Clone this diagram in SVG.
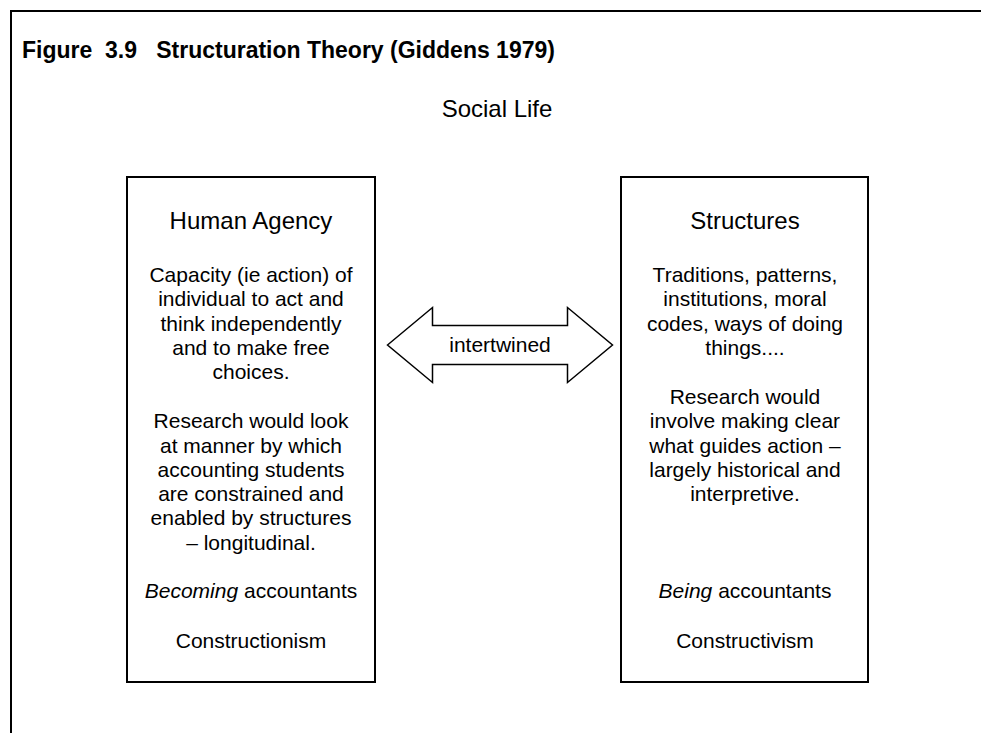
<svg xmlns="http://www.w3.org/2000/svg" width="981" height="733" viewBox="0 0 981 733">
<style>
text{font-family:"Liberation Sans",Arial,sans-serif;fill:#000}
.b{font-size:21px;text-anchor:middle}
.h{font-size:24px;text-anchor:middle}
.box{fill:#fff;stroke:#000;stroke-width:2}
</style>
<rect width="981" height="733" fill="#fff"/>
<path d="M11,733 V11 H981" fill="none" stroke="#000" stroke-width="2"/>
<text x="22" y="58" font-size="23" font-weight="bold" xml:space="preserve">Figure  3.9   Structuration Theory (Giddens 1979)</text>
<text x="497" y="117" class="h" font-size="23">Social Life</text>
<g id="agency">
<rect class="box" x="127" y="177" width="248" height="505"/>
<text class="h" x="251" y="229">Human Agency</text>
<text class="b" x="251" y="282">Capacity (ie action) of</text>
<text class="b" x="251" y="306">individual to act and</text>
<text class="b" x="251" y="331">think independently</text>
<text class="b" x="251" y="355">and to make free</text>
<text class="b" x="251" y="379">choices.</text>
<text class="b" x="251" y="428">Research would look</text>
<text class="b" x="251" y="453">at manner by which</text>
<text class="b" x="251" y="477">accounting students</text>
<text class="b" x="251" y="501">are constrained and</text>
<text class="b" x="251" y="525">enabled by structures</text>
<text class="b" x="251" y="550">– longitudinal.</text>
<text class="b" x="251" y="598"><tspan font-style="italic">Becoming</tspan> accountants</text>
<text class="b" x="251" y="648">Constructionism</text>
</g>
<g id="structures">
<rect class="box" x="621" y="177" width="247" height="505"/>
<text class="h" x="745" y="229">Structures</text>
<text class="b" x="745" y="282">Traditions, patterns,</text>
<text class="b" x="745" y="306">institutions, moral</text>
<text class="b" x="745" y="331">codes, ways of doing</text>
<text class="b" x="745" y="355">things....</text>
<text class="b" x="745" y="404">Research would</text>
<text class="b" x="745" y="428">involve making clear</text>
<text class="b" x="745" y="453">what guides action –</text>
<text class="b" x="745" y="477">largely historical and</text>
<text class="b" x="745" y="501">interpretive.</text>
<text class="b" x="745" y="598"><tspan font-style="italic">Being</tspan> accountants</text>
<text class="b" x="745" y="648">Constructivism</text>
</g>
<g id="connectors">
<path d="M387.5,345 L432.5,307.5 V325.5 H567.5 V307.5 L612.5,345 L567.5,382.5 V364.5 H432.5 V382.5 Z" fill="#fff" stroke="#000" stroke-width="1.5" stroke-linejoin="miter"/>
<text class="b" x="500" y="352">intertwined</text>
</g>
</svg>
